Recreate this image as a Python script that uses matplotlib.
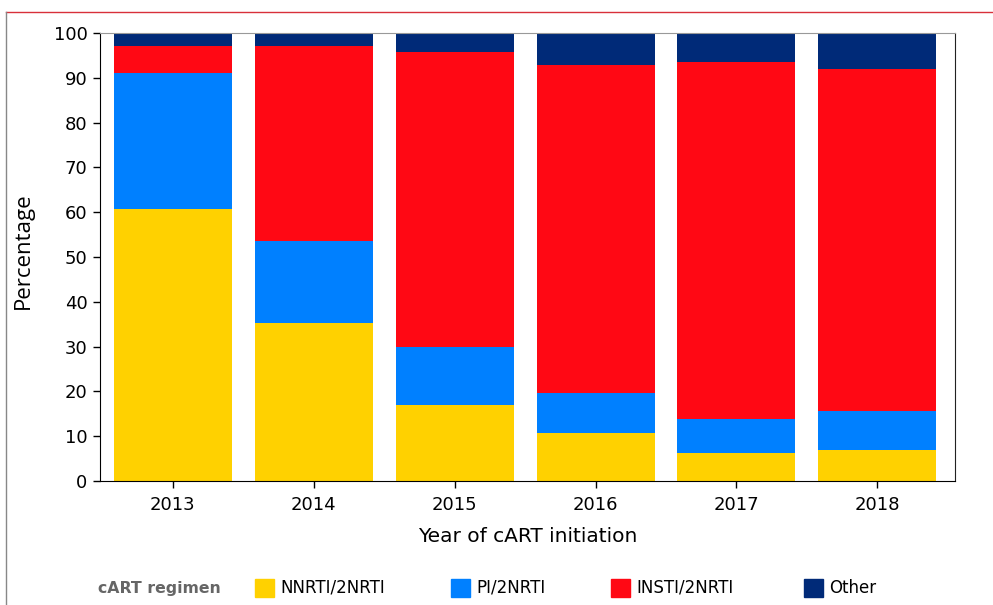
#!/usr/bin/env python3

"""Stacked bars of cART regimen by year of initiation"""

import matplotlib
matplotlib.use("Agg")
import matplotlib.pyplot as plt
from matplotlib.lines import Line2D
from matplotlib.patches import Rectangle

# data (percent)
years = ["2013", "2014", "2015", "2016", "2017", "2018"]
nnrti = [60.7, 35.3, 17.0, 10.7, 6.3, 6.9]
pi = [30.4, 18.3, 12.9, 8.9, 7.6, 8.7]
insti = [6.0, 43.5, 65.9, 73.3, 79.7, 76.4]
other = [2.9, 2.9, 4.2, 7.1, 6.4, 8.0]

series = [("NNRTI/2NRTI", nnrti, "#FFD100"),
          ("PI/2NRTI", pi, "#0080FF"),
          ("INSTI/2NRTI", insti, "#FF0814"),
          ("Other", other, "#002A78")]

fig = plt.figure(figsize=(9.93, 6.05), dpi=100)
ax = fig.add_axes([100 / 993, 1 - 481 / 605, 855 / 993, 448 / 605])

x = range(len(years))
bottom = [0] * len(years)
for name, vals, col in series:
    ax.bar(x, vals, width=0.837, bottom=bottom, color=col, label=name)
    bottom = [b + v for b, v in zip(bottom, vals)]

ax.set_xlim(-0.515, 5.55)
ax.set_ylim(0, 100)
ax.set_yticks(range(0, 101, 10))
ax.set_xticks(list(x))
ax.set_xticklabels(years)
ax.tick_params(axis="both", direction="out", length=5, width=1, labelsize=13, pad=4)
ax.tick_params(axis="x", pad=6)
ax.spines["top"].set_color("#999999")
ax.spines["right"].set_color("#222222")
for s in ["left", "bottom"]:
    ax.spines[s].set_color("black")

ax.set_xlabel("Year of cART initiation", fontsize=14.5, labelpad=9)
ax.set_ylabel("Percentage", fontsize=16, family=["Open Sans", "DejaVu Sans"])
ax.yaxis.set_label_coords(-0.077, 0.515)

# panel frame lines
fig.add_artist(Line2D([6 / 993, 1], [1 - 12 / 605, 1 - 12 / 605],
                      transform=fig.transFigure, color="#D8303A", lw=1))
fig.add_artist(Line2D([6 / 993, 6 / 993], [0, 1 - 12 / 605],
                      transform=fig.transFigure, color="#888888", lw=1))

# legend row along the bottom
ly = 1 - 588 / 605
fig.text(98 / 993, ly, "cART regimen", fontsize=11.3, fontweight="bold",
         color="#666666", va="center", ha="left")
patch_x = [255, 451, 611, 804]
for (name, vals, col), px in zip(series, patch_x):
    fig.add_artist(Rectangle((px / 993, 1 - 597 / 605), 19 / 993, 18 / 605,
                             transform=fig.transFigure, color=col))
    fig.text((px + 25) / 993, ly, name, fontsize=12, va="center", ha="left")

fig.savefig("out.png")
plt.close(fig)
